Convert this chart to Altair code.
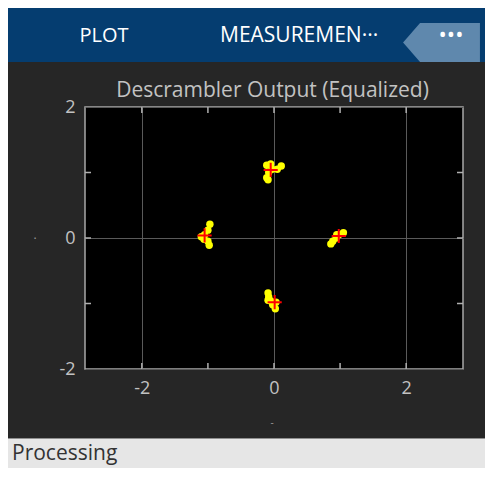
import altair as alt
import pandas as pd

# --- data ---
sym_i = [-0.11, -0.05, 0.11, 0.05, -0.08, -0.11, -0.09, -0.03,
         -0.97, -1.00, -1.05, -1.10, -1.00, -0.98, -1.06,
         0.86, 0.89, 0.94, 0.98, 1.05, 0.95,
         -0.09, -0.08, -0.05, -0.02, 0.02, -0.09, 0.03]
sym_q = [1.11, 1.13, 1.10, 1.05, 1.00, 0.92, 0.89, 1.05,
         0.21, 0.12, 0.05, 0.02, -0.05, -0.11, -0.02,
         -0.09, -0.05, 0.00, 0.05, 0.08, 0.05,
         -0.84, -0.90, -0.96, -1.02, -1.08, -0.95, -0.98]
ref_i = [-0.05, -1.05, 0.98, 0.01]
ref_q = [1.04, 0.04, 0.03, -0.98]
x_grid = [-2, 0, 2]
y_grid = [-2, 0, 2]
x_ticks = [-2, -1, 0, 1, 2]
y_ticks = [-1, 0, 1]
title = "Descrambler Output (Equalized)"
tabs = ["PLOT", "MEASUREMEN\u00b7\u00b7\u00b7"]
status = "Processing"

W, H = 378, 262
XD = [-2.86, 2.86]
YD = [-2, 2]
FONT = "Open Sans"
LBL = "#c2c2c2"
RIGHT = 400   # chart right edge, relative to plot origin
BOTTOM = 361  # chart bottom edge, relative to plot origin

xs = alt.Scale(domain=XD, nice=False, zero=False)
ys = alt.Scale(domain=YD, nice=False, zero=False)

sym = pd.DataFrame({"i": sym_i, "q": sym_q})
ref = pd.DataFrame({"i": ref_i, "q": ref_q})
xt = pd.DataFrame({"v": x_ticks})
yt = pd.DataFrame({"v": y_ticks})
one = pd.DataFrame({"a": [0]})

def ax(vals):
    return alt.Axis(values=vals, grid=True, gridColor="#5a5a5a", gridWidth=1,
                    domain=False, ticks=False, labelColor=LBL, labelFont=FONT,
                    labelFontSize=18, labelPadding=10, title=None,
                    labelExpr="'' + datum.value")

base_axes = alt.Chart(one).mark_point(opacity=0).encode(
    x=alt.X("a:Q", scale=xs, axis=ax(x_grid)),
    y=alt.Y("a:Q", scale=ys, axis=ax(y_grid)),
)

tick_col = "#b0b0b0"
xt_b = alt.Chart(xt).mark_rule(color=tick_col, strokeWidth=1.5).encode(
    x=alt.X("v:Q", scale=xs), y=alt.value(H), y2=alt.value(H - 6))
xt_t = alt.Chart(xt).mark_rule(color=tick_col, strokeWidth=1.5).encode(
    x=alt.X("v:Q", scale=xs), y=alt.value(0), y2=alt.value(6))
yt_l = alt.Chart(yt).mark_rule(color=tick_col, strokeWidth=1.5).encode(
    y=alt.Y("v:Q", scale=ys), x=alt.value(0), x2=alt.value(6))
yt_r = alt.Chart(yt).mark_rule(color=tick_col, strokeWidth=1.5).encode(
    y=alt.Y("v:Q", scale=ys), x=alt.value(W), x2=alt.value(W - 6))

pts = alt.Chart(sym).mark_circle(color="#ffff00", opacity=1, size=55).encode(
    x=alt.X("i:Q", scale=xs), y=alt.Y("q:Q", scale=ys))
crosses = alt.Chart(ref).mark_point(shape="M-1,0L1,0M0,-1L0,1", color="#ff0000",
                                   filled=False, strokeWidth=2, size=200, opacity=1).encode(
    x=alt.X("i:Q", scale=xs), y=alt.Y("q:Q", scale=ys))

# --- window chrome ---
header = alt.Chart(one).mark_rect(color="#053d70").encode(
    x=alt.value(-77), x2=alt.value(RIGHT), y=alt.value(-99), y2=alt.value(-45))
button = alt.Chart(one).mark_point(shape="M-1.97,0L-1.1,-1L1.97,-1L1.97,1L-1.1,1Z",
                                   filled=True, color="#5f88ad", opacity=1, size=1521).encode(
    x=alt.value(356.5), y=alt.value(-64.5))
dots = alt.Chart(one).mark_text(text="\u2022\u2022\u2022", color="white", fontSize=22,
                                font=FONT, baseline="middle").encode(x=alt.value(366), y=alt.value(-72))
tab1 = alt.Chart(one).mark_text(text=tabs[0], color="white", fontSize=20, font=FONT,
                                baseline="middle").encode(x=alt.value(19), y=alt.value(-71))
tab2 = alt.Chart(one).mark_text(text=tabs[1], color="white", fontSize=21, font=FONT,
                                align="left", baseline="middle").encode(x=alt.value(135), y=alt.value(-71))
ttl = alt.Chart(one).mark_text(text=title, color=LBL, fontSize=21, font=FONT,
                               baseline="middle").encode(x=alt.value(187.5), y=alt.value(-16))
ydot = alt.Chart(one).mark_text(text=".", color="#9a9a9a", fontSize=12, font=FONT,
                                baseline="middle").encode(x=alt.value(-50), y=alt.value(128))
xdot = alt.Chart(one).mark_text(text="-", color="#9a9a9a", fontSize=10, font=FONT,
                                baseline="middle").encode(x=alt.value(187), y=alt.value(316))
sbar = alt.Chart(one).mark_rect(color="#e6e6e6").encode(
    x=alt.value(-77), x2=alt.value(RIGHT), y=alt.value(332), y2=alt.value(BOTTOM))
sline = alt.Chart(one).mark_rule(color="#8f8f8f", strokeWidth=1).encode(
    x=alt.value(-77), x2=alt.value(RIGHT), y=alt.value(331.5))
stext = alt.Chart(one).mark_text(text=status, color="#333333", fontSize=21, font=FONT,
                                 align="left", baseline="middle").encode(x=alt.value(-73), y=alt.value(347))

chart = alt.layer(
    base_axes, xt_b, xt_t, yt_l, yt_r, pts, crosses,
    header, button, dots, tab1, tab2, ttl, ydot, xdot, sbar, sline, stext
).properties(
    width=W, height=H,
    autosize=alt.AutoSizeParams(type="none"),
    padding={"left": 77, "top": 99, "right": RIGHT - W, "bottom": BOTTOM - H},
    background="#262626",
).configure_view(fill="black", stroke="#a8a8a8", strokeWidth=1.5)

chart.save("out.html", embed_options={"renderer": "svg", "actions": False})
